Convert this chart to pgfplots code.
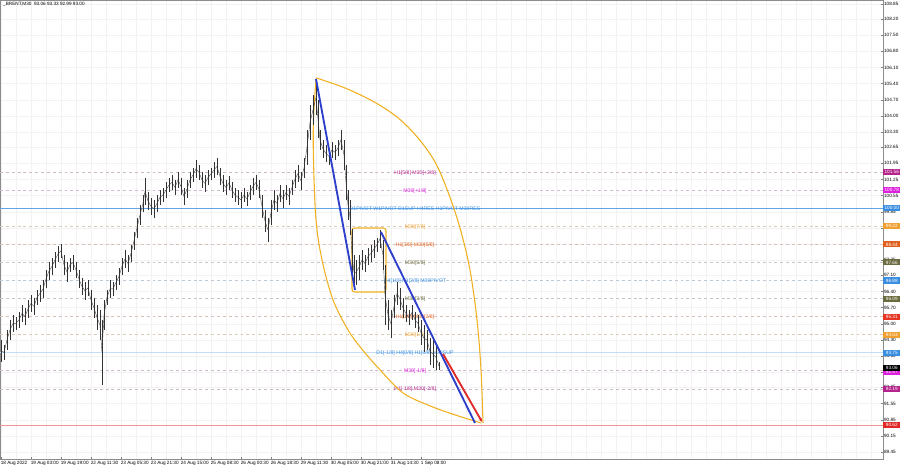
\documentclass[border=0pt]{standalone}
\usepackage{fontspec}
\setmainfont{Liberation Sans}
\usepackage{pgfplots}
\usepackage{pgfplotstable}
\pgfplotsset{compat=1.18}
\usetikzlibrary{arrows.meta}

\definecolor{cPurp}{HTML}{B5248A}
\definecolor{cMag}{HTML}{DD22DD}
\definecolor{cBlue}{HTML}{3A8EE0}
\definecolor{cOrg}{HTML}{F0A030}
\definecolor{cRedO}{HTML}{E0601E}
\definecolor{cOli}{HTML}{6B6B40}
\definecolor{cRed}{HTML}{E02828}
\definecolor{cLens}{HTML}{F0B020}
\definecolor{cRoyal}{HTML}{2E3FCC}
\definecolor{cArrow}{HTML}{E02A2A}

\newcommand{\tinyf}{\fontsize{3.5}{4}\selectfont}
\newcommand{\midf}{\fontsize{3.9}{4.5}\selectfont}
\newcommand{\level}[2]{\addplot[#2] coordinates {(0,#1) (883,#1)};}

\pgfplotstableread{
x h l
1 94.30 93.35
4 94.09 93.44
7 94.74 93.87
10 95.17 94.30
13 95.39 94.65
16 95.30 94.74
19 95.52 94.83
22 95.82 95.08
25 95.69 94.95
28 96.04 95.26
31 96.25 95.52
34 96.12 95.39
37 96.47 95.82
40 96.69 95.95
43 96.90 96.12
46 97.33 96.55
49 97.68 96.90
52 97.86 97.12
55 98.12 97.42
58 98.37 97.68
61 98.46 97.86
64 97.98 97.12
67 97.68 96.82
70 97.86 97.25
73 97.98 97.33
76 97.68 96.99
79 97.33 96.55
82 96.99 96.25
85 96.82 96.04
88 96.90 96.21
91 96.47 95.60
94 96.12 95.26
97 95.82 94.74
100 95.60 94.30
102 95.17 92.36
104 96.04 94.74
107 96.47 95.82
110 96.90 96.12
113 96.82 96.21
116 97.12 96.47
119 97.42 96.69
122 97.86 97.12
125 98.20 97.42
128 97.98 97.25
131 98.42 97.68
134 98.98 98.20
137 99.59 98.72
140 100.15 99.28
143 100.58 99.85
145 101.32 100.15
148 100.71 99.93
151 100.45 99.72
154 100.37 99.59
157 100.58 99.85
160 100.80 100.15
163 100.88 100.28
166 101.14 100.45
169 101.32 100.71
172 101.45 100.80
175 101.23 100.58
178 101.58 100.88
181 101.32 100.58
184 100.88 100.15
187 101.23 100.45
190 101.58 100.88
193 101.75 101.14
196 102.10 101.32
199 101.88 101.23
202 101.58 100.88
205 101.45 100.71
208 101.66 101.01
211 101.75 101.23
214 102.01 101.32
217 102.19 101.45
220 101.75 101.01
223 101.45 100.71
226 101.23 100.58
229 101.40 100.80
232 101.14 100.45
235 100.88 100.28
238 100.80 100.15
241 100.71 100.02
244 100.88 100.28
247 100.71 100.10
250 101.01 100.37
253 101.32 100.58
256 101.45 100.80
259 101.23 100.45
262 100.58 99.59
265 99.93 98.98
268 99.59 98.55
271 100.37 99.28
274 100.80 99.93
277 100.58 99.85
280 101.01 100.28
283 100.80 100.02
286 101.01 100.37
289 100.88 100.15
292 101.23 100.58
295 101.66 100.88
298 101.88 101.14
301 101.58 100.80
304 102.19 101.32
307 103.40 101.88
310 104.48 102.96
313 104.91 103.61
316 105.56 104.04
318 104.69 103.05
320 103.40 102.53
323 102.96 102.19
326 102.75 102.01
329 102.62 101.88
332 102.88 102.19
335 102.75 102.10
338 102.96 102.27
341 103.40 102.53
344 102.96 101.66
346 101.88 100.37
348 100.80 99.50
350 100.37 98.85
352 99.11 96.90
354 97.98 96.47
356 97.77 96.69
359 97.98 96.90
362 98.20 97.33
365 97.98 97.25
368 98.29 97.55
371 98.42 97.68
374 98.63 97.86
377 98.72 98.12
380 99.07 98.29
383 98.63 97.33
385 97.55 94.95
388 96.04 94.74
391 95.60 94.39
394 96.25 95.26
397 96.82 95.82
400 96.56 95.60
403 96.12 95.26
406 95.82 95.08
409 95.60 94.95
412 95.82 95.17
415 95.52 94.83
418 95.39 94.65
421 95.17 94.09
424 94.95 93.79
427 94.74 93.87
430 94.39 93.22
433 94.30 93.09
436 94.09 93.01
439 93.33 92.99
}\bars

\begin{document}
\begin{tikzpicture}
\path[use as bounding box] (0,-6.75pt) rectangle (675pt,344.25pt);
\begin{axis}[
  at={(0,0)}, anchor=south west,
  width=662.25pt, height=344.25pt, scale only axis,
  xmin=0, xmax=883, ymin=89.15, ymax=109.02,
  axis line style={draw=black!45, line width=0.4pt},
  xtick={1,31,...,421},
  xticklabels={18 Aug 2022, 19 Aug 03:00, 19 Aug 19:00, 22 Aug 11:30, 23 Aug 05:30, 23 Aug 21:30, 24 Aug 15:00, 25 Aug 08:30, 26 Aug 00:30, 26 Aug 18:30, 29 Aug 11:30, 30 Aug 05:00, 30 Aug 21:00, 31 Aug 14:30, 1 Sep 08:00},
  xticklabel style={font=\tinyf, anchor=north west, inner sep=0pt, yshift=-1.2pt, xshift=-0.3pt},
  minor xtick={1,16,...,871}, xminorgrids,
  minor grid style={black!5, line width=0.3pt},
  xtick pos=bottom, ytick pos=right, yticklabel pos=right,
  major tick length=1.5pt, minor tick length=0pt,
  tick style={black!50, line width=0.3pt},
  ytick={89.45,90.15,90.85,91.55,92.25,92.90,93.60,94.30,95.00,95.70,96.40,97.10,97.75,98.45,99.15,99.85,100.55,101.25,101.95,102.65,103.30,104.00,104.70,105.40,106.10,106.80,107.50,108.20,108.85},
  yticklabels={89.45,90.15,90.85,91.55,92.25,92.90,93.60,94.30,95.00,95.70,96.40,97.10,97.75,98.45,99.15,99.85,100.55,101.25,101.95,102.65,103.30,104.00,104.70,105.40,106.10,106.80,107.50,108.20,108.85},
  ymajorgrids, major grid style={black!5, line width=0.3pt},
  yticklabel style={font=\tinyf, anchor=west, inner sep=0pt, xshift=0.6pt},
]
% level lines
\level{101.56}{draw=cPurp!30!gray!45, line width=0.4pt, dash pattern=on 2.2pt off 2.2pt}
\level{100.78}{draw=cMag!30!gray!45, line width=0.4pt, dash pattern=on 2.2pt off 2.2pt}
\level{100.00}{draw=cBlue!80, line width=0.7pt}
\level{99.22}{draw=cOrg!40!gray!45, line width=0.4pt, dash pattern=on 2.2pt off 2.2pt}
\level{98.44}{draw=cRedO!35!gray!45, line width=0.4pt, dash pattern=on 2.2pt off 2.2pt}
\level{97.66}{draw=gray!45, line width=0.4pt, dash pattern=on 2.2pt off 2.2pt}
\level{96.88}{draw=cBlue!35!gray!45, line width=0.4pt, dash pattern=on 2.2pt off 2.2pt}
\level{96.09}{draw=gray!45, line width=0.4pt, dash pattern=on 2.2pt off 2.2pt}
\level{95.31}{draw=cRedO!35!gray!45, line width=0.4pt, dash pattern=on 2.2pt off 2.2pt}
\level{94.53}{draw=cOrg!40!gray!45, line width=0.4pt, dash pattern=on 2.2pt off 2.2pt}
\level{93.75}{draw=cBlue!30, line width=0.7pt}
\level{92.97}{draw=cMag!30!gray!45, line width=0.4pt, dash pattern=on 2.2pt off 2.2pt}
\level{92.19}{draw=cPurp!30!gray!45, line width=0.4pt, dash pattern=on 2.2pt off 2.2pt}
\level{90.62}{draw=cRed!50, line width=0.4pt}

% level texts
\node[font=\midf, text=cPurp] at (axis cs:415,101.53) {H1[5/8] M30[+2/8]};
\node[font=\midf, text=cMag] at (axis cs:415,100.75) {M30[+1/8]};
\node[font=\midf, text=cBlue] at (axis cs:415,99.97) {D1PIVOT W1PIVOT D1SUP H4RES H1PIVOT M30RES};
\node[font=\midf, text=cOrg] at (axis cs:415,99.19) {M30[7/8]};
\node[font=\midf, text=cRedO] at (axis cs:415,98.41) {H1[3/8] M30[6/8]};
\node[font=\midf, text=cOli] at (axis cs:415,97.63) {M30[5/8]};
\node[font=\midf, text=cBlue] at (axis cs:415,96.85) {H4[1/8] H1[2/8] M30PIVOT};
\node[font=\midf, text=cOli] at (axis cs:415,96.06) {M30[3/8]};
\node[font=\midf, text=cRedO] at (axis cs:415,95.28) {H1[1/8] M30[2/8]};
\node[font=\midf, text=cOrg] at (axis cs:415,94.50) {M30[1/8]};
\node[font=\midf, text=cBlue] at (axis cs:415,93.72) {D1[-1/8] H4[0/8] H1[0/8] M30SUP};
\node[font=\midf, text=cMag] at (axis cs:415,92.94) {M30[-1/8]};
\node[font=\midf, text=cPurp] at (axis cs:415,92.16) {H1[-1/8] M30[-2/8]};

% orange lens
\addplot[cLens, line width=0.8pt, smooth, tension=0.55] coordinates {
 (316,105.62) (313.5,103.83) (313.5,102.10) (316,99.50) (322,97.77) (333,96.04)
 (348,94.74) (362,93.90) (380,93.01) (403,92.01) (430,91.45) (455,91.06) (481,90.71)};
\addplot[cLens, line width=0.8pt, smooth, tension=0.55] coordinates {
 (316,105.65) (345,105.21) (374,104.61) (398,103.92) (418,103.05) (435,102.01)
 (448,100.71) (460,99.15) (470,97.33) (477,95.17) (481,93.01) (483,90.71)};
% orange box
\addplot[cLens, line width=0.8pt, rounded corners=2pt] coordinates {
 (352,97.50) (352,99.15) (386,99.15) (386,96.38) (352,96.38) (352,97.50)};

% candles
\addplot[black!70, line width=0.3pt] table[x=x, y expr=(\thisrow{h}+\thisrow{l})/2] {\bars};
\addplot[draw=none, mark=none, error bars/.cd, y dir=both, y explicit, error mark=none,
  error bar style={black!80, line width=0.65pt}]
  table[x=x, y expr=(\thisrow{h}+\thisrow{l})/2, y error expr=(\thisrow{h}-\thisrow{l})/2] {\bars};

% trend lines
\addplot[cRoyal, line width=1.4pt] coordinates {(316,105.60) (355,96.47)};
\addplot[cRoyal, line width=1.4pt] coordinates {(381,98.98) (475,90.71)};
\addplot[cArrow, line width=1.4pt, -{Stealth[length=2.5pt,width=2.5pt]}] coordinates {(443,93.70) (482,90.76)};

% coordinates for right labels
\coordinate (r1) at (axis cs:883,101.56);
\coordinate (r2) at (axis cs:883,100.78);
\coordinate (r3) at (axis cs:883,100.00);
\coordinate (r4) at (axis cs:883,99.22);
\coordinate (r5) at (axis cs:883,98.44);
\coordinate (r6) at (axis cs:883,97.66);
\coordinate (r7) at (axis cs:883,96.88);
\coordinate (r8) at (axis cs:883,96.09);
\coordinate (r9) at (axis cs:883,95.31);
\coordinate (r10) at (axis cs:883,94.53);
\coordinate (r11) at (axis cs:883,93.75);
\coordinate (r12) at (axis cs:883,93.10);
\coordinate (r13) at (axis cs:883,92.93);
\coordinate (r14) at (axis cs:883,92.19);
\coordinate (r15) at (axis cs:883,90.62);
\coordinate (tl) at (axis cs:0,109.02);
\end{axis}
\tikzset{rl/.style={anchor=west, text=white, font=\tinyf, inner xsep=0.5pt, inner ysep=0pt, minimum width=12.75pt, minimum height=4.6pt}}
\node[rl, fill=cPurp] at (r1) {101.56};
\node[rl, fill=cMag] at (r2) {100.78};
\node[rl, fill=cBlue] at (r3) {100.00};
\node[rl, fill=cOrg] at (r4) {99.22};
\node[rl, fill=cRedO] at (r5) {98.44};
\node[rl, fill=cOli] at (r6) {97.66};
\node[rl, fill=cBlue] at (r7) {96.88};
\node[rl, fill=cOli] at (r8) {96.09};
\node[rl, fill=cRed!85!orange] at (r9) {95.31};
\node[rl, fill=cOrg] at (r10) {94.53};
\node[rl, fill=cBlue] at (r11) {93.75};
\node[rl, fill=cMag] at (r13) {92.97};
\node[rl, fill=black] at (r12) {93.06};
\node[rl, fill=cPurp] at (r14) {92.19};
\node[rl, fill=cRed] at (r15) {90.62};
\node[anchor=north west, font=\tinyf, inner sep=0pt] at ([xshift=2.2pt,yshift=-1.8pt]tl) {\_BRENT,M30\ \ 93.06 93.33 92.99 93.00};
\end{tikzpicture}
\end{document}
